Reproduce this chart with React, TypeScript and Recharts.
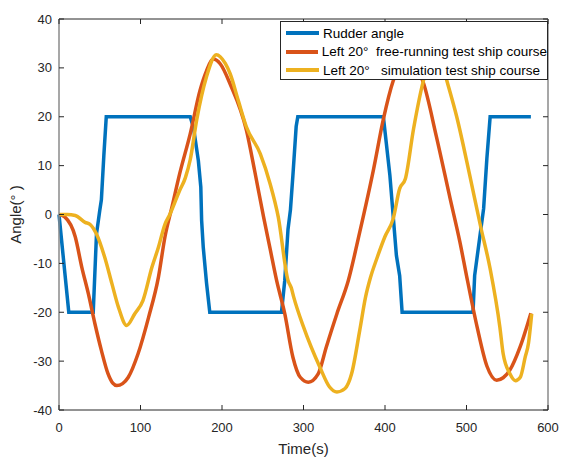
import { LineChart, Line, XAxis, YAxis, Legend, ReferenceLine } from "recharts"

// Rudder angle (deg) vs time (s)
const rudderT = [0, 12, 42, 46, 50, 52, 55, 58, 161, 165, 171, 174, 175, 177, 181, 185, 273, 277, 281, 284, 287, 291, 293, 398, 406, 414, 418, 421, 508, 510, 516, 521, 525, 529, 579]
const rudderAngle = [0, -20, -20, -4, 0.8, 3, 12, 20, 20, 17.8, 11, 5.6, -1.2, -6.7, -14, -20, -20, -13.5, -3, 1, 8, 18, 20, 20, 8, -8.4, -12.5, -20, -20, -12.5, -5, 1.2, 11.5, 20, 20]

// Left 20 deg free-running test ship course
const freeT = [0, 7, 20, 28, 36, 44, 52, 60, 66, 71, 78, 85, 97, 110, 122, 130, 139, 148, 161, 173, 181, 189, 198, 210, 230, 240, 251, 259, 267, 277, 287, 296, 306, 318, 328, 341, 355, 369, 386, 398, 410, 419, 428, 437, 447, 463, 480, 492, 500, 513, 525, 537, 545, 553, 566, 579]
const freeAngle = [0, -0.5, -4.6, -10.8, -16.2, -22.3, -27.8, -32.5, -34.5, -35, -34.6, -33.3, -28.5, -21, -12.8, -4.6, 1.8, 8.3, 16.5, 25.4, 29.4, 31.8, 30.8, 26.7, 17.2, 9, -0.5, -7, -13.5, -20.3, -29.2, -33.3, -34.3, -32.6, -27.1, -20.3, -13.5, -3.6, 9.3, 19.5, 27.3, 30.8, 32, 30.6, 27, 16, 3.2, -5.7, -12.5, -23, -31, -33.9, -33.4, -31.9, -27, -20.2]

// Left 20 deg simulation test ship course
const simT = [0, 10, 20, 32, 38, 46, 56, 65, 73, 83, 93, 103, 114, 122, 130, 136, 148, 155, 161, 169, 181, 193, 204, 210, 220, 230, 247, 259, 269, 281, 285, 288, 300, 320, 332, 341, 351, 359, 369, 376, 382, 390, 400, 410, 418, 425, 435, 447, 455, 462, 469, 476, 488, 504, 517, 529, 541, 545, 553, 560, 566, 572, 576, 580]
const simAngle = [0, 0, -0.2, -1.6, -2, -4, -8.7, -14.2, -19, -22.7, -20.3, -17.6, -10.8, -6.7, -2, 0, 4.9, 7.5, 11.2, 19.4, 28.2, 32.7, 30.9, 28.8, 23.3, 17.9, 12.4, 6.3, -0.5, -13.5, -15, -16.9, -23, -31.2, -35.3, -36.3, -35.6, -32.6, -23.7, -17, -13, -9, -4.5, -0.9, 5.3, 7.3, 17.5, 27.3, 31.5, 33, 31.5, 27.3, 20, 8, -2.2, -11.1, -23.1, -28.5, -32.5, -34, -33.3, -29.2, -26.4, -20.3]

const xTicks = [0, 100, 200, 300, 400, 500, 600]
const yTicks = [-40, -30, -20, -10, 0, 10, 20, 30, 40]

const seriesNames = ["Rudder angle", "Left 20°  free-running test ship course", "Left 20°   simulation test ship course"]
const colors = ["#0072BD", "#D95319", "#EDB120"]

const rudderData = rudderT.map((t, i) => ({ t, v: rudderAngle[i] }))
const freeData = freeT.map((t, i) => ({ t, v: freeAngle[i] }))
const simData = simT.map((t, i) => ({ t, v: simAngle[i] }))

const FONT = '"Liberation Sans", Arial, Helvetica, sans-serif'
const PLOT = { left: 59, right: 548, top: 19, bottom: 410 }

const XTick = (props: any) => {
  const { x, payload } = props
  return (
    <g>
      <line x1={x} x2={x} y1={PLOT.bottom} y2={PLOT.bottom - 5} stroke="#262626" />
      <line x1={x} x2={x} y1={PLOT.top} y2={PLOT.top + 5} stroke="#262626" />
      <text x={x} y={PLOT.bottom + 17} textAnchor="middle" dominantBaseline="central" fontSize={13} fontFamily={FONT} fill="#262626">
        {payload.value}
      </text>
    </g>
  )
}

const YTick = (props: any) => {
  const { y, payload } = props
  return (
    <g>
      <line x1={PLOT.left} x2={PLOT.left + 5} y1={y} y2={y} stroke="#262626" />
      <line x1={PLOT.right} x2={PLOT.right - 5} y1={y} y2={y} stroke="#262626" />
      <text x={PLOT.left - 7} y={y} textAnchor="end" dominantBaseline="central" fontSize={13} fontFamily={FONT} fill="#262626">
        {payload.value}
      </text>
    </g>
  )
}

const LegendBox = () => (
  <div
    style={{
      background: "#fff",
      border: "1px solid #262626",
      width: 268,
      height: 59,
      fontFamily: FONT,
      fontSize: 13.5,
      color: "#000",
      paddingTop: 2,
      boxSizing: "border-box",
    }}
  >
    {seriesNames.map((name, i) => (
      <div key={name} style={{ display: "flex", alignItems: "center", height: 18.5, whiteSpace: "pre" }}>
        <span style={{ display: "inline-block", width: 33, height: 4, background: colors[i], marginLeft: 5, marginRight: 4 }} />
        <span>{name}</span>
      </div>
    ))}
  </div>
)

export default function App() {
  return (
    <div style={{ position: "absolute", left: 0, top: 0, background: "#fff" }}>
      <LineChart width={567} height={457} margin={{ top: 19, right: 19, bottom: 0, left: 0 }}>
        <XAxis
          type="number"
          dataKey="t"
          domain={[0, 600]}
          ticks={xTicks}
          height={47}
          tickLine={false}
          tick={<XTick />}
          axisLine={{ stroke: "#262626" }}
          label={{ value: "Time(s)", position: "insideBottom", offset: 3, fontSize: 15, fontFamily: FONT, fill: "#262626" }}
        />
        <YAxis
          type="number"
          domain={[-40, 40]}
          ticks={yTicks}
          width={59}
          tickLine={false}
          tick={<YTick />}
          axisLine={{ stroke: "#8a8a8a", strokeWidth: 1.5 }}
          label={{ value: "Angle(° )", angle: -90, position: "insideLeft", offset: 16, fontSize: 15, fontFamily: FONT, fill: "#262626", style: { textAnchor: "middle" } }}
        />
        <ReferenceLine y={40} stroke="#262626" />
        <ReferenceLine x={600} stroke="#8a8a8a" strokeWidth={1.5} />
        <Line data={rudderData} dataKey="v" name={seriesNames[0]} type="linear" stroke={colors[0]} strokeWidth={3.5} dot={false} isAnimationActive={false} />
        <Line data={freeData} dataKey="v" name={seriesNames[1]} type="monotone" stroke={colors[1]} strokeWidth={3.5} dot={false} isAnimationActive={false} />
        <Line data={simData} dataKey="v" name={seriesNames[2]} type="monotone" stroke={colors[2]} strokeWidth={3.5} dot={false} isAnimationActive={false} />
        <Legend
          layout="vertical"
          align="center"
          verticalAlign="middle"
          content={<LegendBox />}
          wrapperStyle={{ position: "absolute", left: 280, top: 21, width: 268, height: 59 }}
        />
      </LineChart>
    </div>
  )
}
